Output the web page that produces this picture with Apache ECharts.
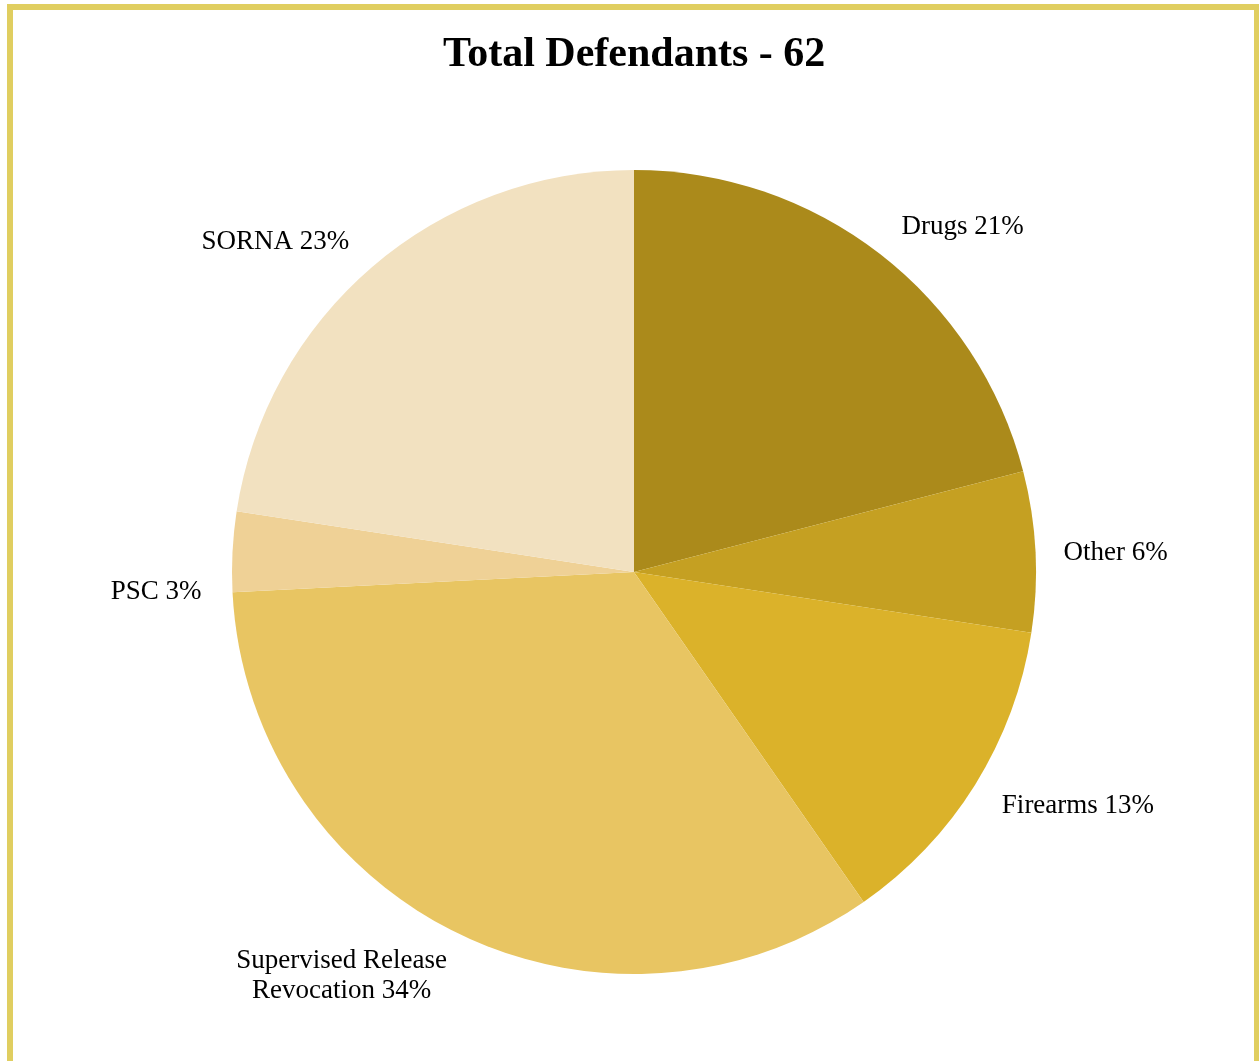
<!DOCTYPE html>
<html>
<head>
<meta charset="utf-8">
<script src="https://cdn.jsdelivr.net/npm/echarts@6/dist/echarts.min.js"></script>
<style>
  html, body { margin: 0; padding: 0; background: #ffffff; overflow: hidden; }
  #frame { position: absolute; left: 7px; top: 4px; width: 1241px; height: 1100px; border: 6px solid #E0CE60; box-sizing: content-box; }
  #chart { position: absolute; left: 0; top: 0; width: 1259px; height: 1061px; }
</style>
</head>
<body>
<div id="frame"></div>
<div id="chart"></div>
<script>
const titleText = 'Total Defendants - 62';
const categories = ['Drugs', 'Other', 'Firearms', 'Supervised Release\nRevocation', 'PSC', 'SORNA'];
const counts = [13, 4, 8, 21, 2, 14];
const percentLabels = ['21%', '6%', '13%', '34%', '3%', '23%'];
const colors = ['#AB8A1B', '#C5A022', '#DBB22A', '#E8C562', '#EFD196', '#F2E1C0'];

const chart = echarts.init(document.getElementById('chart'), null, { renderer: 'canvas' });

const data = categories.map((c, i) => {
  const item = { name: c, value: counts[i], itemStyle: { color: colors[i] } };
  if (c.indexOf('\n') >= 0) {
    const parts = c.split('\n');
    item.label = {
      formatter: '{a|' + parts[0] + '}\n{a|' + parts[1] + ' ' + percentLabels[i] + '}',
      rich: { a: { width: 220, align: 'center', fontFamily: 'Liberation Serif', fontSize: 27, color: '#000', lineHeight: 30 } }
    };
  } else {
    item.label = { formatter: c + ' ' + percentLabels[i] };
  }
  return item;
});

const labelShift = { 0: [-2, 0], 1: [-9, 3], 2: [-5, 3], 3: [12, 12], 4: [6, 42], 5: [2, 1] };

chart.setOption({
  animation: false,
  title: {
    text: titleText,
    left: 438,
    top: 29,
    textStyle: { fontFamily: 'Liberation Serif', fontWeight: 'bold', fontSize: 42, color: '#000' }
  },
  series: [{
    type: 'pie',
    center: [634, 572],
    radius: 402,
    startAngle: 90,
    clockwise: true,
    avoidLabelOverlap: false,
    data: data,
    label: {
      show: true,
      position: 'outside',
      fontFamily: 'Liberation Serif',
      fontSize: 27,
      color: '#000',
      distanceToLabelLine: 2
    },
    labelLine: { show: false, length: 35, length2: 0 },
    labelLayout: function (params) {
      const s = labelShift[params.dataIndex] || [0, 0];
      return { dx: s[0], dy: s[1] };
    },
    emphasis: { disabled: true }
  }]
});
</script>
</body>
</html>
